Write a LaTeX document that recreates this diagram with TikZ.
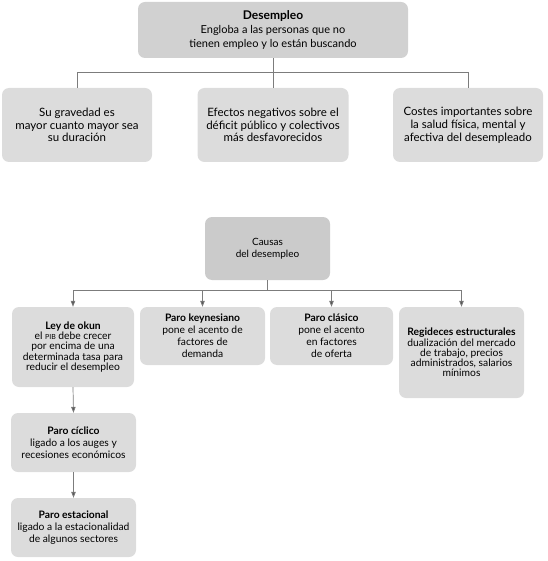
\documentclass[tikz,border=0pt]{standalone}
\usepackage{fontspec}
\setmainfont{Lato}
\usetikzlibrary{arrows.meta}
\definecolor{boxgray}{HTML}{DCDCDC}
\definecolor{darkgray}{HTML}{CBCBCB}
\definecolor{linegray}{HTML}{7C7C7C}
\tikzset{
  card/.style={fill=boxgray, rounded corners=7pt, align=center, inner sep=0pt,
    font=\fontsize{11.5}{12.8}\selectfont},
  small/.style={card, font=\fontsize{10.3}{12}\selectfont},
  tight/.style={font=\fontsize{10.3}{10.2}\selectfont},
  link/.style={draw=linegray, line width=0.7pt},
  arr/.style={link, -{Triangle[width=4.5pt,length=6pt,fill=black!65]}}
}
\newcommand{\pib}{{\fontsize{7}{7}\selectfont PIB}}
\begin{document}
\begin{tikzpicture}[x=1pt,y=-1pt]
\useasboundingbox (0,0) rectangle (547,561);
% what unemployment is
\node[card, fill=boxgray!95!black, minimum width=270, minimum height=56,
  font=\fontsize{11}{13.8}\selectfont] (desempleo) at (273,30)
  {{\fontsize{12}{13.8}\selectfont\textbf{Desempleo}}\\Engloba a las personas que no\\tienen empleo y lo están buscando};
\node[card, minimum width=150, minimum height=74] (gravedad) at (77,125)
  {Su gravedad es\\mayor cuanto mayor sea\\su duración};
\node[card, minimum width=151, minimum height=74] (efectos) at (273,125)
  {Efectos negativos sobre el\\déficit público y colectivos\\más desfavorecidos};
\node[card, minimum width=150, minimum height=74] (costes) at (468,125)
  {Costes importantes sobre\\la salud física, mental y\\afectiva del desempleado};
\coordinate (tj) at (273,72);
\draw[link] (desempleo.south) -- (tj);
\draw[link] (gravedad.north) -- (gravedad.north |- tj) -- (costes.north |- tj) -- (costes.north);
\draw[link] (efectos.north |- tj) -- (efectos.north);
% causes
\node[small, fill=darkgray, minimum width=125, minimum height=63,
  font=\fontsize{10}{12.5}\selectfont] (causas) at (267.5,248.5) {Causas\\del desempleo};
\node[small, tight, minimum width=122, minimum height=80] (okun) at (73,347)
  {\textbf{Ley de okun}\\el \pib{} debe crecer\\por encima de una\\determinada tasa para\\reducir el desempleo};
\node[small, minimum width=125, minimum height=58] (keynes) at (202.5,336)
  {\textbf{Paro keynesiano}\\pone el acento de\\factores de\\demanda};
\node[small, minimum width=123, minimum height=58] (clasico) at (331.5,336)
  {\textbf{Paro clásico}\\pone el acento\\en factores\\de oferta};
\node[small, tight, minimum width=125, minimum height=91] (rigideces) at (461.5,352.5)
  {\textbf{Regideces estructurales}\\dualización del mercado\\de trabajo, precios\\administrados, salarios\\mínimos};
\node[small, minimum width=125, minimum height=59] (ciclico) at (73.5,442.5)
  {\textbf{Paro cíclico}\\ligado a los auges y\\recesiones económicos};
\node[small, minimum width=125, minimum height=59] (estacional) at (73.5,527.5)
  {\textbf{Paro estacional}\\ligado a la estacionalidad\\de algunos sectores};
\coordinate (bj) at (267.5,290);
\draw[link] (causas.south) -- (bj);
\draw[link] (okun.north |- bj) -- (rigideces.north |- bj);
\foreach \n in {okun,keynes,clasico,rigideces}
  \draw[arr] (\n.north |- bj) -- (\n.north);
\draw[arr] (okun.south) -- (ciclico.north);
\draw[arr] (ciclico.south) -- (estacional.north);
\end{tikzpicture}
\end{document}
